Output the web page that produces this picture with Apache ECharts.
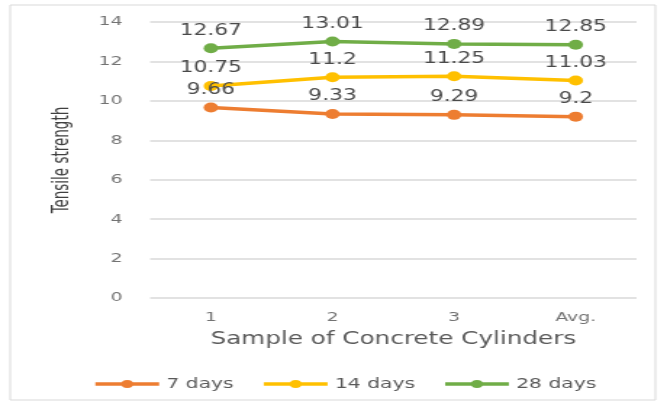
<!DOCTYPE html>
<html><head><meta charset="utf-8">
<script src="https://cdn.jsdelivr.net/npm/echarts@6/dist/echarts.min.js"></script>
<style>
html,body{margin:0;padding:0;background:#fff;overflow:hidden}
#wrap{width:661px;height:402px;overflow:hidden}
#c{width:456px;height:402px;transform:scaleX(1.45);transform-origin:0 0}
</style>
</head><body><div id="wrap"><div id="c"></div></div>
<script>
const categories = ['1', '2', '3', 'Avg.'];
const days7 = [9.66, 9.33, 9.29, 9.2];
const days14 = [10.75, 11.2, 11.25, 11.03];
const days28 = [12.67, 13.01, 12.89, 12.85];
const seriesNames = ['7 days', '14 days', '28 days'];
const colors = ['#ED7D31', '#FFC000', '#70AD47'];

const FONT = "'DejaVu Sans', sans-serif";
const chart = echarts.init(document.getElementById('c'));
function mk(name, data, color) {
  return {
    name, type: 'line', data, symbol: 'circle', symbolSize: 10,
    lineStyle: { width: 3.5, color }, itemStyle: { color },
    label: { show: true, position: 'top', distance: 5, color: '#4a4a4a', fontSize: 15, fontFamily: FONT }
  };
}
chart.setOption({
  animation: false,
  graphic: [{ type: 'rect', shape: { x: 7, y: 5, width: 445, height: 395 }, style: { fill: 'none', stroke: '#d9d9d9', lineWidth: 1 }, silent: true }],
  grid: { left: 103.5, right: 17, top: 22, bottom: 104 },
  legend: {
    bottom: 6, left: 59, itemWidth: 44, itemHeight: 10, itemGap: 19,
    lineStyle: { width: 3.5 },
    textStyle: { color: '#595959', fontSize: 14, fontFamily: FONT },
    data: seriesNames
  },
  xAxis: {
    type: 'category', data: categories, boundaryGap: true,
    axisLine: { show: false }, axisTick: { show: false },
    axisLabel: { color: '#737373', fontSize: 13, margin: 13, fontFamily: FONT },
    name: 'Sample of Concrete Cylinders', nameLocation: 'middle', nameGap: 33,
    nameTextStyle: { color: '#595959', fontSize: 17, fontFamily: FONT }
  },
  yAxis: {
    type: 'value', min: 0, max: 14, interval: 2,
    axisLabel: { color: '#737373', fontSize: 13, margin: 19, fontFamily: FONT },
    splitLine: { lineStyle: { color: '#d9d9d9', width: 1.5 } },
    name: 'Tensile strength', nameLocation: 'middle', nameGap: 53, nameRotate: 90,
    nameTextStyle: { color: '#404040', fontSize: 15, fontFamily: "'DejaVu Sans Condensed', 'Liberation Sans', sans-serif" }
  },
  series: [mk(seriesNames[0], days7, colors[0]), mk(seriesNames[1], days14, colors[1]), mk(seriesNames[2], days28, colors[2])]
});
</script></body></html>
